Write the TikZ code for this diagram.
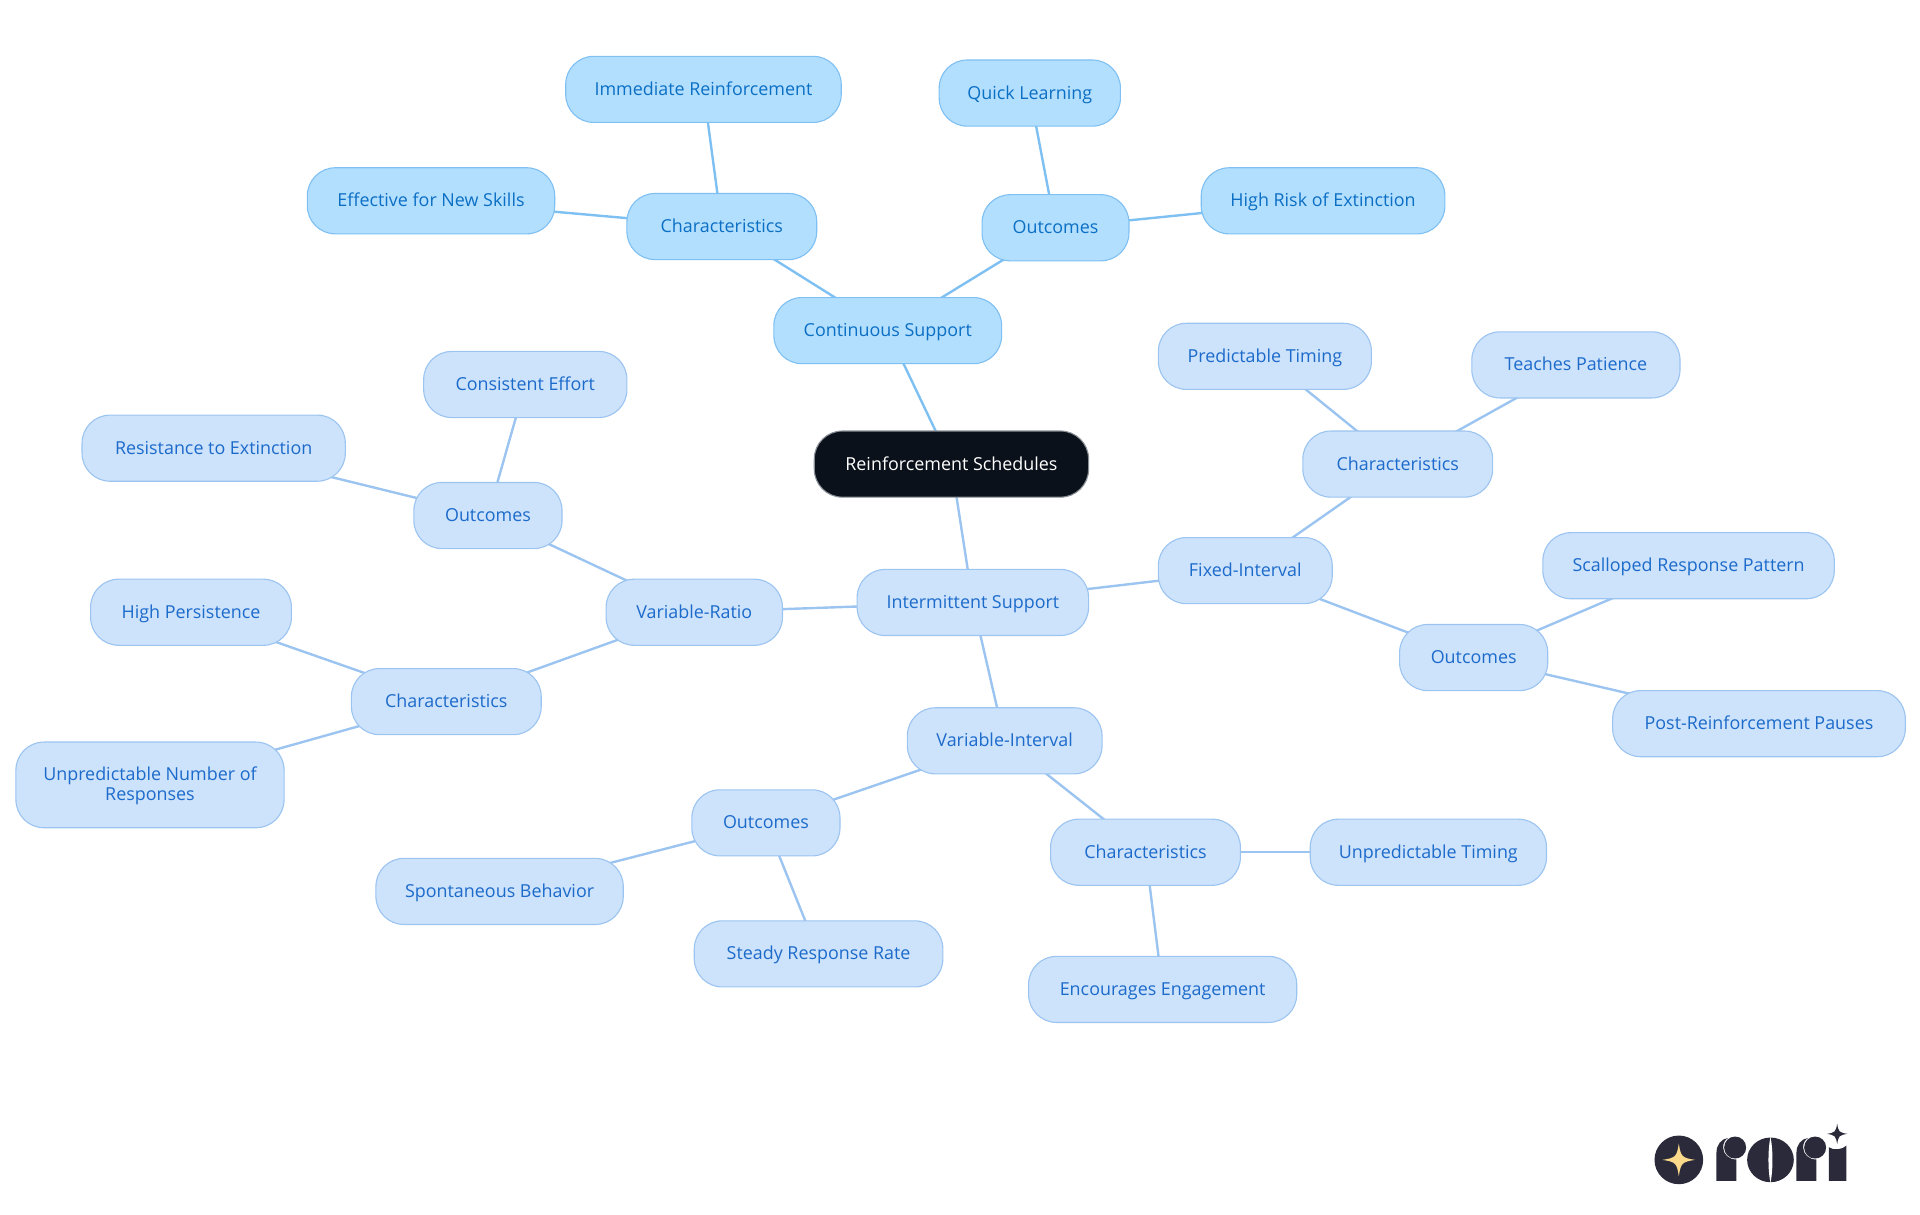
\documentclass[tikz,border=0pt]{standalone}
\usepackage{fontspec}
\setmainfont{Open Sans}
\usetikzlibrary{backgrounds}
\definecolor{rootfill}{HTML}{0B111A}
\definecolor{rootline}{HTML}{8A8F96}
\definecolor{skyfill}{HTML}{B3DFFF}
\definecolor{skyline}{HTML}{7FC0F2}
\definecolor{skytext}{HTML}{0B6FC4}
\definecolor{palefill}{HTML}{CDE2FB}
\definecolor{paleline}{HTML}{9CC4F0}
\definecolor{paletext}{HTML}{1C6BCB}
\definecolor{logodark}{HTML}{2A2A3A}
\definecolor{logostar}{HTML}{FBD98A}
\tikzset{
  x=1.2245pt,y=-1.2245pt,
  mm/.style={rounded corners=28pt,line width=1.1pt,inner sep=0pt,align=center,
    font=\fontsize{17.9}{20}\selectfont},
  rootbox/.style={mm,draw=rootline,fill=rootfill,text=white},
  skybox/.style={mm,draw=skyline,fill=skyfill,text=skytext},
  palebox/.style={mm,draw=paleline,fill=palefill,text=paletext},
  skyedge/.style={draw=skyline,line width=2.4pt},
  paleedge/.style={draw=paleline,line width=2.4pt},
  logoshape/.style={fill=logodark,draw=none},
}
\newcommand{\topstrut}{\rule{0pt}{19pt}}
\newcommand{\botstrut}{\rule[-7pt]{0pt}{7pt}}
\newcommand{\mnode}[7]{\node[#6,minimum width={(#3-#2)*1.2245pt},minimum height={(#5-#4)*1.2245pt}] (#1) at ({(#2+#3)/2},{(#4+#5)/2}) {\topstrut#7\botstrut};}
\newcommand{\fourstar}[4]{\fill[#4] (#1-#3,#2) .. controls (#1-0.2*#3,#2-0.12*#3) and (#1-0.12*#3,#2-0.2*#3) .. (#1,#2-#3) .. controls (#1+0.12*#3,#2-0.2*#3) and (#1+0.2*#3,#2-0.12*#3) .. (#1+#3,#2) .. controls (#1+0.2*#3,#2+0.12*#3) and (#1+0.12*#3,#2+0.2*#3) .. (#1,#2+#3) .. controls (#1-0.12*#3,#2+0.2*#3) and (#1-0.2*#3,#2+0.12*#3) .. (#1-#3,#2) -- cycle;}
\newcommand{\logor}[1]{%
  \fill[logoshape] (#1,243) -- (#1+60,243) -- (#1+60,179) .. controls (#1+37,179) and (#1+20,163) .. (#1+20,143) .. controls (#1+20,130) and (#1+25,120) .. (#1+35,114) .. controls (#1+14,117) and (#1,135) .. (#1,158) -- cycle;
  \fill[logoshape] (#1+56,143) circle[radius=33];}
\begin{document}
\begin{tikzpicture}
\useasboundingbox (0,0) rectangle (1568,992.25);
\mnode{root}{665}{889}{352}{406}{rootbox}{Reinforcement Schedules}
\mnode{cont}{632}{818}{243}{297}{skybox}{Continuous Support}
\mnode{cchar}{512}{667}{158}{212}{skybox}{Characteristics}
\mnode{cout}{802}{922}{159}{213}{skybox}{Outcomes}
\mnode{imm}{462}{687}{46}{100}{skybox}{Immediate Reinforcement}
\mnode{eff}{251}{453}{137}{191}{skybox}{Effective for New Skills}
\mnode{quick}{767}{915}{49}{103}{skybox}{Quick Learning}
\mnode{risk}{981}{1180}{137}{191}{skybox}{High Risk of Extinction}
\mnode{inter}{700}{889}{465}{519}{palebox}{Intermittent Support}
\mnode{vr}{495}{639}{473}{527}{palebox}{Variable-Ratio}
\mnode{fi}{946}{1088}{439}{493}{palebox}{Fixed-Interval}
\mnode{vi}{741}{900}{578}{632}{palebox}{Variable-Interval}
\mnode{fichar}{1064}{1219}{352}{406}{palebox}{Characteristics}
\mnode{pred}{946}{1120}{264}{318}{palebox}{Predictable Timing}
\mnode{teach}{1202}{1372}{271}{325}{palebox}{Teaches Patience}
\mnode{fiout}{1143}{1264}{510}{564}{palebox}{Outcomes}
\mnode{scal}{1260}{1498}{435}{489}{palebox}{Scalloped Response Pattern}
\mnode{post}{1317}{1556}{564}{618}{palebox}{Post-Reinforcement Pauses}
\mnode{vrout}{338}{459}{394}{448}{palebox}{Outcomes}
\mnode{cons}{346}{512}{287}{341}{palebox}{Consistent Effort}
\mnode{resi}{67}{282}{339}{393}{palebox}{Resistance to Extinction}
\mnode{vrchar}{287}{442}{546}{600}{palebox}{Characteristics}
\mnode{hipe}{74}{238}{473}{527}{palebox}{High Persistence}
\mnode{unum}{13}{232}{606}{676}{palebox}{Unpredictable Number of\\Responses}
\mnode{viout}{565}{686}{645}{699}{palebox}{Outcomes}
\mnode{spon}{307}{509}{701}{755}{palebox}{Spontaneous Behavior}
\mnode{stea}{567}{770}{752}{806}{palebox}{Steady Response Rate}
\mnode{vichar}{858}{1013}{669}{723}{palebox}{Characteristics}
\mnode{utim}{1070}{1263}{669}{723}{palebox}{Unpredictable Timing}
\mnode{enco}{840}{1059}{781}{835}{palebox}{Encourages Engagement}
\begin{pgfonlayer}{background}
\foreach \a/\b in {root/cont,cont/cchar,cont/cout,cchar/imm,cchar/eff,cout/quick,cout/risk}
  \draw[skyedge] (\a.center) -- (\b.center);
\foreach \a/\b in {root/inter,inter/vr,inter/fi,inter/vi,fi/fichar,fichar/pred,fichar/teach,fi/fiout,fiout/scal,fiout/post,vr/vrout,vrout/cons,vrout/resi,vr/vrchar,vrchar/hipe,vrchar/unum,vi/viout,viout/spon,viout/stea,vi/vichar,vichar/utim,vichar/enco}
  \draw[paleedge] (\a.center) -- (\b.center);
\end{pgfonlayer}
% logo
\begin{scope}[x=0.3333pt,y=-0.3333pt,shift={(4860,3300)}]
\fill[logoshape] (177,180) circle[radius=73];
\fourstar{177}{180}{49}{logostar}
\logor{290}
\logor{530}
\fill[logoshape] (452,180) ellipse[x radius=70,y radius=67];
\fill[white] (452,111) .. controls (444,150) and (444,210) .. (452,249) .. controls (460,210) and (460,150) .. (452,111) -- cycle;
\fill[logoshape] (627,243) -- (680,243) -- (680,137) .. controls (668,150) and (640,152) .. (627,142) -- cycle;
\fourstar{652}{102}{31}{logodark}
\end{scope}
\end{tikzpicture}
\end{document}
